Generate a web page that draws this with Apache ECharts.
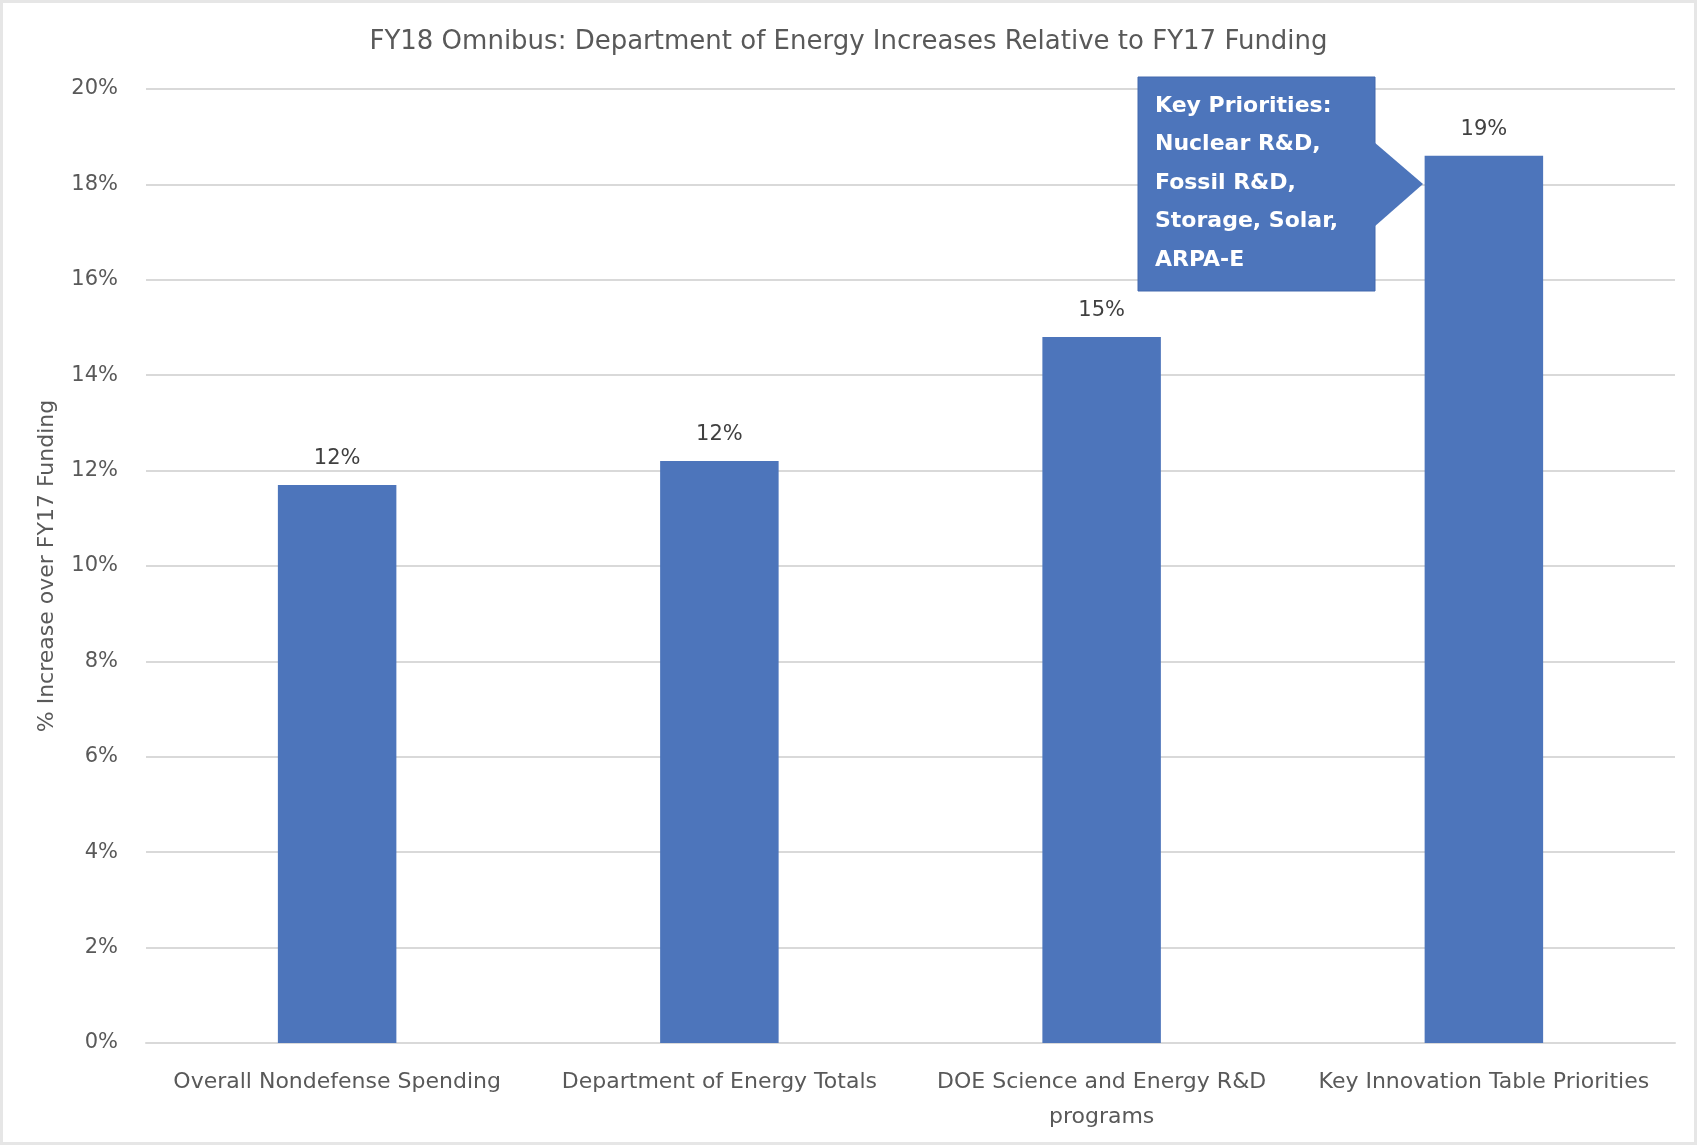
<!DOCTYPE html>
<html>
<head>
<meta charset="utf-8">
<script src="https://cdn.jsdelivr.net/npm/echarts@6/dist/echarts.min.js"></script>
<style>
  html, body { margin: 0; padding: 0; background: #fff; }
  #main { width: 1697px; height: 1145px; box-sizing: border-box; border: 3px solid #e6e6e6; }
</style>
</head>
<body>
<div id="main"></div>
<script>
// data
var categories = [
    'Overall Nondefense Spending',
    'Department of Energy Totals',
    'DOE Science and Energy R&D\nprograms',
    'Key Innovation Table Priorities'
];
var increases = [11.7, 12.2, 14.8, 18.6];
var calloutLines = ['Key Priorities:', 'Nuclear R&D,', 'Fossil R&D,', 'Storage, Solar,', 'ARPA-E'];

var FONT = '"DejaVu Sans", "Liberation Sans", sans-serif';
var BLUE = '#4d75bb';

var chart = echarts.init(document.getElementById('main'));

var option = {
    animation: false,
    textStyle: { fontFamily: FONT },
    title: {
        text: 'FY18 Omnibus: Department of Energy Increases Relative to FY17 Funding',
        left: 'center',
        top: 21,
        textStyle: { fontSize: 26, fontWeight: 'normal', color: '#595959', fontFamily: FONT }
    },
    grid: { left: 143, right: 19, top: 86, bottom: 99 },
    xAxis: {
        type: 'category',
        data: categories,
        axisLine: { lineStyle: { color: '#d9d9d9', width: 2 } },
        axisTick: { show: false },
        axisLabel: {
            color: '#595959', fontSize: 22, margin: 22, lineHeight: 35, interval: 0
        }
    },
    yAxis: {
        type: 'value',
        min: 0,
        max: 20,
        interval: 2,
        name: '% Increase over FY17 Funding',
        nameLocation: 'middle',
        nameGap: 88,
        nameTextStyle: { color: '#595959', fontSize: 22 },
        axisLabel: {
            color: '#595959', fontSize: 21, margin: 28,
            formatter: function (v) { return v + '%'; }
        },
        splitLine: { lineStyle: { color: '#d9d9d9', width: 2 } }
    },
    series: [{
        type: 'bar',
        data: increases,
        barWidth: '31%',
        itemStyle: { color: BLUE },
        label: {
            show: true,
            position: 'top',
            distance: 16,
            color: '#404040',
            fontSize: 21,
            formatter: function (p) { return Math.round(p.value) + '%'; }
        }
    }],
    graphic: [
        {
            type: 'rect',
            z: 100,
            shape: { x: 1135, y: 74, width: 237, height: 214 },
            style: { fill: BLUE, stroke: '#4268ad', lineWidth: 1 }
        },
        {
            type: 'polygon',
            z: 100,
            shape: { points: [[1371, 139], [1420, 181], [1371, 224]] },
            style: { fill: BLUE }
        },
        {
            type: 'text',
            z: 101,
            left: 1152,
            top: 84,
            style: {
                text: calloutLines.join('\n'),
                fill: '#ffffff',
                font: 'bold 22px ' + FONT,
                lineHeight: 38.4
            }
        }
    ]
};

chart.setOption(option);
</script>
</body>
</html>
